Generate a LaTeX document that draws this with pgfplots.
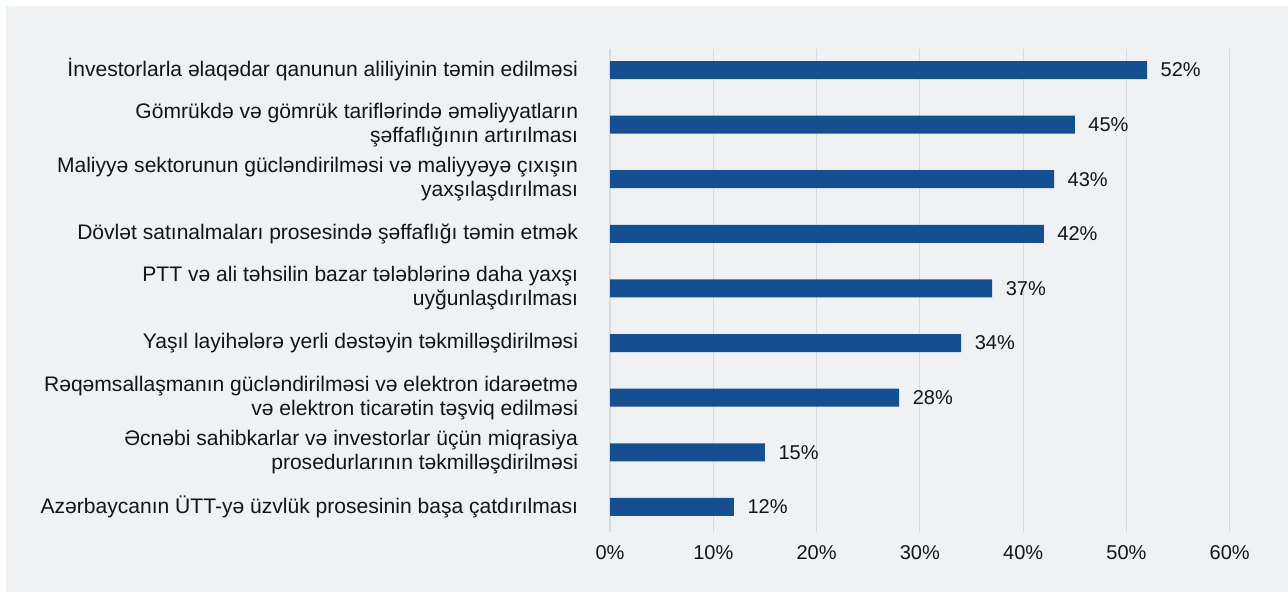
\documentclass[border=0pt]{standalone}
\usepackage{pgfplots}
\pgfplotsset{compat=1.18}
\usepackage{fontspec}
\setmainfont{Liberation Sans}
\definecolor{bgg}{RGB}{240,241,243}
\definecolor{barc}{RGB}{20,79,145}
\definecolor{gridc}{RGB}{216,217,220}
\definecolor{txt}{RGB}{20,20,20}
\begin{document}
\begin{tikzpicture}[x=1pt,y=1pt]
\fill[white] (0,0) rectangle (966,444.75);
\fill[bgg] (4.5,0.75) rectangle (966,440.25);
\begin{axis}[
  at={(457.5pt,45.75pt)}, anchor=south west,
  scale only axis, width=464.8pt, height=362.25pt,
  xbar, bar width=13.5pt,
  xmin=0, xmax=60, ymin=-0.46, ymax=8.385,
  xtick={0,10,...,60},
  xticklabel={\pgfmathprintnumber{\tick}\%},
  ytick={0,...,8},
  yticklabels={
    {Azərbaycanın ÜTT-yə üzvlük prosesinin başa çatdırılması},
    {Əcnəbi sahibkarlar və investorlar üçün miqrasiya\\prosedurlarının təkmilləşdirilməsi},
    {Rəqəmsallaşmanın gücləndirilməsi və elektron idarəetmə\\və elektron ticarətin təşviq edilməsi},
    {Yaşıl layihələrə yerli dəstəyin təkmilləşdirilməsi},
    {PTT və ali təhsilin bazar tələblərinə daha yaxşı\\uyğunlaşdırılması},
    {Dövlət satınalmaları prosesində şəffaflığı təmin etmək},
    {Maliyyə sektorunun gücləndirilməsi və maliyyəyə çıxışın\\yaxşılaşdırılması},
    {Gömrükdə və gömrük tariflərində əməliyyatların\\şəffaflığının artırılması},
    {İnvestorlarla əlaqədar qanunun aliliyinin təmin edilməsi}
  },
  yticklabel style={align=right, font=\fontsize{15.8}{18}\selectfont, text=txt, inner sep=0pt, xshift=-19.5pt},
  xticklabel style={font=\fontsize{15}{18}\selectfont, text=txt, /pgf/number format/assume math mode=true, inner sep=0pt, yshift=-10pt},
  axis line style={draw=none},
  major tick style={draw=none},
  xmajorgrids, major grid style={gridc, line width=0.9pt},
  ymajorgrids=false,
  clip=false,
  nodes near coords={\pgfmathprintnumber{\pgfplotspointmeta}\%},
  point meta=x,
  nodes near coords style={font=\fontsize{15}{18}\selectfont, text=txt, anchor=west, inner sep=0pt, xshift=10pt, /pgf/number format/assume math mode=true},
]
\addplot[fill=barc, draw=none] coordinates {
(12,0) (15,1) (28,2) (34,3) (37,4) (42,5) (43,6) (45,7) (52,8)
};
\end{axis}
\end{tikzpicture}
\end{document}
